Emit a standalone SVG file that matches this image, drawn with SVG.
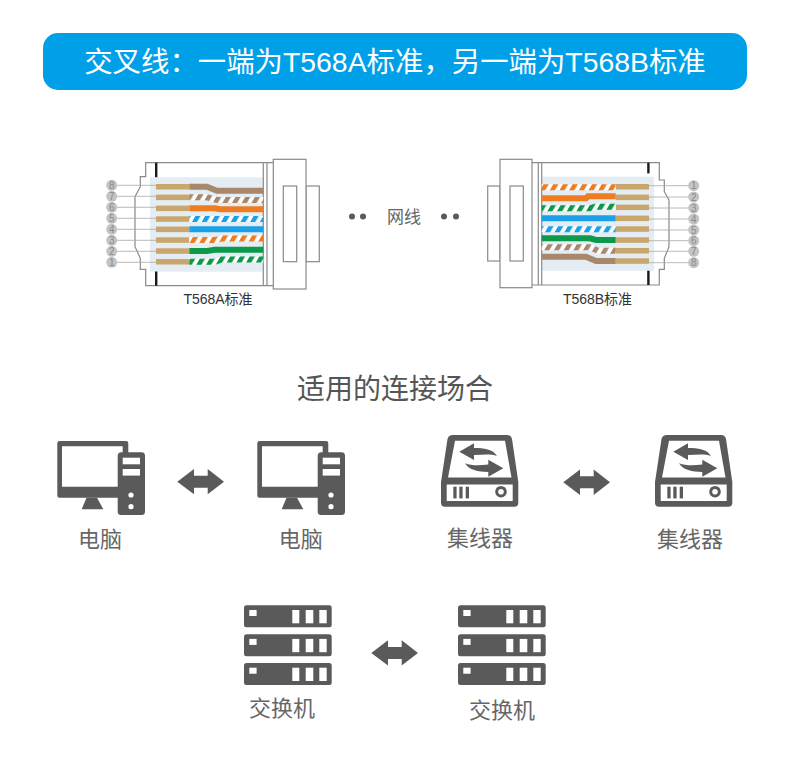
<svg xmlns="http://www.w3.org/2000/svg" xmlns:xlink="http://www.w3.org/1999/xlink" width="790" height="777" viewBox="0 0 790 777">
<style>
text{font-family:"Liberation Sans","Noto Sans CJK SC",sans-serif;text-anchor:middle}
.cjk{fill:#666;font-size:22px}
.dark{fill:#5a5a5a}
.wh{fill:#fff}
.ol{fill:none;stroke:#8a8a8a;stroke-width:1.2}
.box{fill:#fff;stroke:#8a8a8a;stroke-width:1.2}
.pan{fill:#e4ecf4}
.ct{fill:#c9a66b}
.bar{fill:#1a1a1a}
.lead{stroke:#a8a8a8;stroke-width:.8;fill:none}
.w{fill:none;stroke-width:6}
.pin{fill:#c4c4c4}
.pt{font-size:10px;fill:#8a8a8a}
.lab{font-size:14px;fill:#333}
</style>
<defs>
<pattern id="so" patternUnits="userSpaceOnUse" width="9.7" height="10" patternTransform="skewX(-30)"><rect width="9.7" height="10" fill="#fff"/><rect width="5.200" height="10" fill="#ee7d22"/></pattern>
<pattern id="sg" patternUnits="userSpaceOnUse" width="9.7" height="10" patternTransform="skewX(-30)"><rect width="9.7" height="10" fill="#fff"/><rect width="5.200" height="10" fill="#0a9a4a"/></pattern>
<pattern id="sb" patternUnits="userSpaceOnUse" width="9.7" height="10" patternTransform="skewX(-30)"><rect width="9.7" height="10" fill="#fff"/><rect width="5.200" height="10" fill="#1ba1e6"/></pattern>
<pattern id="sn" patternUnits="userSpaceOnUse" width="9.7" height="10" patternTransform="skewX(-30)"><rect width="9.7" height="10" fill="#fff"/><rect width="5.200" height="10" fill="#a8876a"/></pattern>
<g id="pc">
<path class="dark" fill-rule="evenodd" d="M59.500 441H126Q128.300 441 128.300 443.300V452.300H141.500Q145 452.300 145 455.800V511.500Q145 515 141.500 515H121.200Q117.700 515 117.700 511.500V497.700H59.500Q57.300 497.700 57.300 495.500V443.200Q57.300 441 59.500 441ZM62 446.300V486.700H117.700V455.800Q117.700 452.300 121.200 452.300H122.700V446.300Z"/>
<polygon class="dark" points="86.500,497.700 97,497.700 103.300,509.300 81.700,509.300"/>
<rect class="wh" x="122.700" y="457.700" width="17.300" height="6.600"/><rect class="wh" x="122.700" y="469" width="17.300" height="6.600"/>
<circle class="wh" cx="131" cy="495" r="2.600"/><circle class="wh" cx="131" cy="506.700" r="2.600"/>
</g>
<g id="hub">
<path class="dark" fill-rule="evenodd" d="M453 435H507Q511 435 512 439L518.300 482V502.700Q518.300 506.700 514.300 506.700H445Q441 506.700 441 502.700V482L447.500 439Q448.500 435 453 435ZM455 440.700L448 477.500H511.500L505 440.700ZM446.700 484.500V501H512.700V484.500Z"/>
<rect class="dark" x="453.300" y="486.700" width="3.300" height="11.700"/><rect class="dark" x="459.300" y="486.700" width="3.300" height="11.700"/><rect class="dark" x="465.700" y="486.700" width="3.300" height="11.700"/>
<circle cx="501" cy="491.700" r="4.300" fill="#fff" stroke="#5a5a5a" stroke-width="3"/>
<path class="dark" d="M459.300 451.700L474 443.300V448C484 448 493 449 497 456C491 453.500 483 454.500 474 455V460Z"/>
<path class="dark" d="M503.300 468.300L488.300 459.700V464.500C480 465.500 472 466 465 463.300C469 470 478 472 488.300 472V476.700Z"/>
</g>
<g id="rack"><rect class="dark" x="244" y="0" width="87.700" height="22" rx="2.500"/><rect class="wh" x="249.300" y="4.700" width="7.300" height="6"/><rect class="wh" x="292.300" y="4.700" width="7" height="13.300"/><rect class="wh" x="305.700" y="4.700" width="7.600" height="13.300"/><rect class="wh" x="319.300" y="4.700" width="7.400" height="13.300"/></g>
<g id="sw"><use href="#rack" y="605.300"/><use href="#rack" y="634.200"/><use href="#rack" y="663"/></g>
<polygon id="dbl" class="dark" points="177.300,481.700 194,469 194,475.700 207.700,475.700 207.700,469 224,481.700 207.700,494.300 207.700,487.700 194,487.700 194,494.300"/>
<g id="pinl"><circle class="pin" r="5.500"/></g>
</defs>
<rect width="790" height="777" fill="#fff"/>
<g id="header"><rect x="43" y="33" width="704" height="57" rx="15" fill="#00a0e9"/><text x="395" y="72" font-size="28.400" fill="#fff">交叉线：一端为T568A标准，另一端为T568B标准</text></g>

<g id="plug-a">
<rect class="pan" x="150" y="177.300" width="113.300" height="94.400"/>
<path class="ol" d="M263.300 162.700H145.700V176.700H140.300V186.700L135 196.700V246.700L140.300 258.300V269.300H145.700V285.700H263.300"/>
<rect class="bar" x="155" y="162.700" width="2.400" height="14.500"/><rect class="bar" x="155" y="271.500" width="2.400" height="14.200"/>
<path class="ol" d="M263.300 162.700V285.700M267 162.700V285.700M263.300 162.700H273M263.300 285.700H273"/>
<rect class="box" x="306" y="186" width="13.300" height="75.700"/>
<rect class="box" x="273.300" y="159.300" width="32.700" height="129.700"/>
<rect class="box" x="283.300" y="186" width="13.400" height="75.700"/>
<path class="lead" d="M117 185.300H156M117 196.300H156M117 207.300H156M117 218.300H156M117 229.300H156M117 240.300H156M117 251.300H156M117 262.300H156"/>
<g class="ct"><rect x="156" y="184" width="33.300" height="5.500"/><rect x="156" y="194.600" width="33.300" height="5.500"/><rect x="156" y="205.600" width="33.300" height="5.500"/><rect x="156" y="216.300" width="33.300" height="5.500"/><rect x="156" y="226.600" width="33.300" height="5.500"/><rect x="156" y="237.300" width="33.300" height="5.500"/><rect x="156" y="248.300" width="33.300" height="5.500"/><rect x="156" y="259" width="33.300" height="5.500"/></g>
<path class="w" stroke="#a8876a" d="M189.300 186.700H207L217 190.700H263.300"/>
<path class="w" stroke="url(#sn)" d="M189.300 197.300H207L217 200H263.300"/>
<path class="w" stroke="#ee7d22" d="M189.300 208.300H215L220 209.300H263.300"/>
<path class="w" stroke="url(#sb)" d="M189.300 219H263.300"/>
<path class="w" stroke="#1ba1e6" d="M189.300 229.300H263.300"/>
<path class="w" stroke="url(#so)" d="M189.300 240H215L222 238.400H263.300"/>
<path class="w" stroke="#0a9a4a" d="M189.300 251H207L215 249.800H263.300"/>
<path class="w" stroke="url(#sg)" d="M189.300 261.700H215L222 259.500H263.300"/>
<g><use href="#pinl" x="111.700" y="185.300"/><use href="#pinl" x="111.700" y="196.300"/><use href="#pinl" x="111.700" y="207.300"/><use href="#pinl" x="111.700" y="218.300"/><use href="#pinl" x="111.700" y="229.300"/><use href="#pinl" x="111.700" y="240.300"/><use href="#pinl" x="111.700" y="251.300"/><use href="#pinl" x="111.700" y="262.300"/></g>
<g class="pt"><text x="111.700" y="189">8</text><text x="111.700" y="200">7</text><text x="111.700" y="211">6</text><text x="111.700" y="222">5</text><text x="111.700" y="233">4</text><text x="111.700" y="244">3</text><text x="111.700" y="255">2</text><text x="111.700" y="266">1</text></g>
<text class="lab" x="218" y="304">T568A标准</text>
</g>

<g id="plug-b">
<rect class="pan" x="541.700" y="176.700" width="112.300" height="94"/>
<path class="ol" d="M532 162.700H659.300V180H664.300V191.700L669 200V246.700L664.300 258.300V269.300H659.300V285H532"/>
<rect class="bar" x="647.200" y="162.700" width="2.400" height="10.700"/><rect class="bar" x="647.200" y="270.700" width="2.400" height="14.300"/>
<path class="ol" d="M538.300 162.700V285M541.700 162.700V285"/>
<rect class="box" x="487.700" y="186" width="12.300" height="75"/>
<rect class="box" x="500" y="159.300" width="32" height="128.400"/>
<rect class="box" x="510" y="186" width="13.300" height="75"/>
<path class="lead" d="M649 185.700H690M649 197H690M649 208H690M649 219H690M649 230H690M649 240.700H690M649 251.300H690M649 262.700H690"/>
<g class="ct"><rect x="615.700" y="184" width="33.300" height="5.500"/><rect x="615.700" y="194.600" width="33.300" height="5.500"/><rect x="615.700" y="204.600" width="33.300" height="5.500"/><rect x="615.700" y="215.600" width="33.300" height="5.500"/><rect x="615.700" y="226.300" width="33.300" height="5.500"/><rect x="615.700" y="237.300" width="33.300" height="5.500"/><rect x="615.700" y="248" width="33.300" height="5.500"/><rect x="615.700" y="258.300" width="33.300" height="5.500"/></g>
<path class="w" stroke="url(#so)" d="M541.700 187.300H615.700"/>
<path class="w" stroke="#ee7d22" d="M541.700 198.300H586L588 196.300H615.700"/>
<path class="w" stroke="url(#sg)" d="M541.700 208.300H590L595 206.700H615.700"/>
<path class="w" stroke="#1ba1e6" d="M541.700 218.300H615.700"/>
<path class="w" stroke="url(#sb)" d="M541.700 229.300H615.700"/>
<path class="w" stroke="#0a9a4a" d="M541.700 238.300H590L596 240H615.700"/>
<path class="w" stroke="url(#sn)" d="M541.700 247.300H590L598 250.700H615.700"/>
<path class="w" stroke="#a8876a" d="M541.700 256.700H586L596 261H615.700"/>
<g><use href="#pinl" x="693.700" y="185.700"/><use href="#pinl" x="693.700" y="197"/><use href="#pinl" x="693.700" y="208"/><use href="#pinl" x="693.700" y="219"/><use href="#pinl" x="693.700" y="230"/><use href="#pinl" x="693.700" y="240.700"/><use href="#pinl" x="693.700" y="251.300"/><use href="#pinl" x="693.700" y="262.700"/></g>
<g class="pt"><text x="693.700" y="189.400">1</text><text x="693.700" y="200.700">2</text><text x="693.700" y="211.700">3</text><text x="693.700" y="222.700">4</text><text x="693.700" y="233.700">5</text><text x="693.700" y="244.400">6</text><text x="693.700" y="255">7</text><text x="693.700" y="266.400">8</text></g>
<text class="lab" x="597.500" y="304">T568B标准</text>
</g>

<g id="cable"><circle class="dark" cx="352" cy="216.500" r="3"/><circle class="dark" cx="363" cy="216.500" r="3"/><text x="404" y="223" font-size="17" fill="#666">网线</text><circle class="dark" cx="444" cy="216.500" r="3"/><circle class="dark" cx="456" cy="216.500" r="3"/></g>

<text id="title" x="395" y="399" font-size="28" fill="#555">适用的连接场合</text>

<g id="pc-1"><use href="#pc"/><text class="cjk" x="100" y="547">电脑</text></g>
<g id="pc-2"><use href="#pc" x="200"/><text class="cjk" x="300.700" y="547">电脑</text></g>
<g id="hub-1"><use href="#hub"/><text class="cjk" x="480" y="546">集线器</text></g>
<g id="hub-2"><use href="#hub" x="214"/><text class="cjk" x="690" y="547">集线器</text></g>
<g id="switch-1"><use href="#sw"/><text class="cjk" x="282" y="716">交换机</text></g>
<g id="switch-2"><use href="#sw" x="214"/><text class="cjk" x="502" y="718">交换机</text></g>

<g id="connectors"><use href="#dbl"/><use href="#dbl" x="386" y=".6"/><use href="#dbl" x="194" y="171.300"/></g>
</svg>
